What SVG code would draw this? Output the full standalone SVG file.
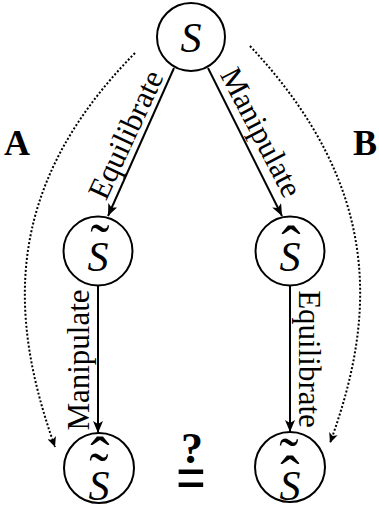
<svg xmlns="http://www.w3.org/2000/svg" width="379" height="508" viewBox="0 0 379 508">
<style>
.node{fill:#fff;stroke:#000;stroke-width:2}
.f{font-family:'Liberation Serif','Times New Roman',Times,serif;fill:#000;text-anchor:middle}
.s{font-style:italic;font-size:42px}
.acc{font-size:58px}
.lbl{font-size:31px}
.big{font-weight:bold}
.edge{stroke:#000;stroke-width:2;fill:none}
.dot{stroke:#000;stroke-width:2;fill:none;stroke-dasharray:2 2}
</style>
<defs>
<marker id="ah" viewBox="0 0 12 10" markerWidth="12" markerHeight="10" refX="12" refY="5" orient="auto" markerUnits="userSpaceOnUse"><path d="M0,0 L12,5 L0,10 L3,5 z" fill="#000"/></marker>
<marker id="ahd" viewBox="0 0 10 9" markerWidth="10" markerHeight="9" refX="10" refY="4.5" orient="auto" markerUnits="userSpaceOnUse"><path d="M0,0 L10,4.5 L0,9 L2.5,4.5 z" fill="#000"/></marker>
</defs>
<g id="connectors">
<line class="edge" x1="174" y1="68" x2="108" y2="216" marker-end="url(#ah)"/>
<line class="edge" x1="208" y1="68" x2="282" y2="216" marker-end="url(#ah)"/>
<line class="edge" x1="98" y1="286" x2="98" y2="433" marker-end="url(#ah)"/>
<line class="edge" x1="290" y1="286" x2="290" y2="432" marker-end="url(#ah)"/>
<path class="dot" d="M135,53 C0,190 10,320 55,447" marker-end="url(#ahd)"/>
<path class="dot" d="M250,46 C385,190 375,320 330,443" marker-end="url(#ahd)"/>
<text class="f lbl" transform="translate(135,139) rotate(-65)">Equilibrate</text>
<text class="f lbl" transform="translate(252,137) rotate(62.5)">Manipulate</text>
<text class="f lbl" transform="translate(89,360) rotate(-90)">Manipulate</text>
<text class="f lbl" transform="translate(299,359) rotate(90)">Equilibrate</text>
</g>
<g id="node-S">
<circle class="node" cx="191" cy="37" r="34"/>
<text class="f s" x="191" y="52">S</text>
</g>
<g id="node-S-tilde">
<circle class="node" cx="98" cy="251" r="34.5"/>
<text class="f acc" x="100" y="263">˜</text>
<text class="f s" x="98" y="271">S</text>
</g>
<g id="node-S-hat">
<circle class="node" cx="290" cy="251" r="34.5"/>
<text class="f acc" x="291" y="265">ˆ</text>
<text class="f s" x="290" y="271">S</text>
</g>
<g id="node-S-tilde-hat">
<circle class="node" cx="99" cy="468" r="35"/>
<text class="f acc" x="100" y="476" font-size="50">ˆ</text>
<text class="f acc" x="99" y="492">˜</text>
<text class="f s" x="99" y="500">S</text>
</g>
<g id="node-S-hat-tilde">
<circle class="node" cx="290" cy="467" r="35"/>
<text class="f acc" x="289" y="477">˜</text>
<text class="f acc" x="290" y="495">ˆ</text>
<text class="f s" x="290" y="500">S</text>
</g>
<g id="labels">
<text class="f big" x="17" y="155" font-size="36">A</text>
<text class="f big" x="365" y="155" font-size="36">B</text>
<text class="f big" x="192" y="463" font-size="44">?</text>
<text class="f big" transform="translate(191,500) scale(0.8,1)" font-size="66">=</text>
</g>
</svg>
